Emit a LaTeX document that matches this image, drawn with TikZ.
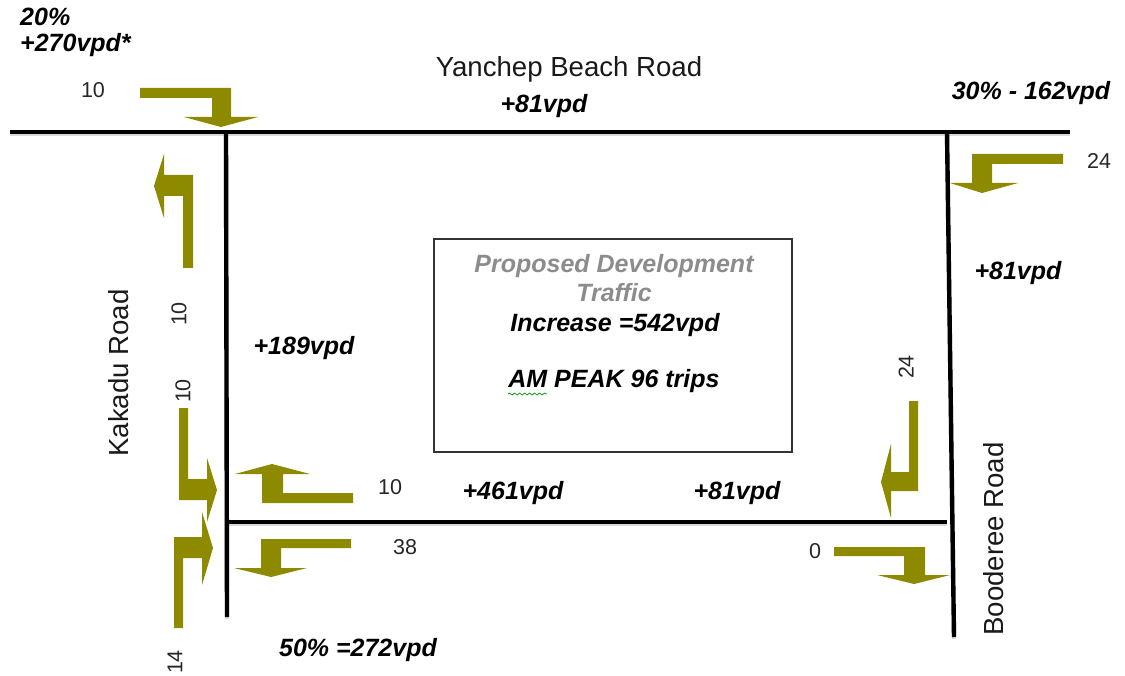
\documentclass[tikz,border=0pt]{standalone}
\usepackage{fontspec}
\setmainfont{Liberation Sans}
\usepackage{tikz}
\usetikzlibrary{decorations.pathmorphing}
\definecolor{arrowolive}{HTML}{8E8A00}
\tikzset{
	roadline/.style={line width=4.4pt,black,preaction={draw=black!15,line width=4.4pt,transform canvas={yshift=-2pt}}},
	turnarrow/.style={fill=arrowolive},
	flowlabel/.style={inner sep=0pt,font=\fontsize{25}{30}\selectfont\bfseries\itshape},
	countlabel/.style={inner sep=0pt,text=black!85,font=\fontsize{21.5}{25}\selectfont},
	roadlabel/.style={inner sep=0pt,text=black!90,font=\fontsize{27.6}{32}\selectfont},
}
\begin{document}
\begin{tikzpicture}[x=1pt,y=-1pt]
	\useasboundingbox (0,0) rectangle (1125,676);
	% junctions and road ends
	\coordinate (westend) at (10,132);
	\coordinate (eastend) at (1070,132);
	\coordinate (nw) at (226,132);
	\coordinate (ne) at (947,132);
	\coordinate (sw) at (226,522);
	\coordinate (se) at (947,522);
	\coordinate (kakaduend) at (227,617);
	\coordinate (boodereeend) at (954,637);
	% roads
	\draw[roadline] (westend) -- (eastend);
	\draw[roadline] (sw) -- (se);
	\draw[roadline] (nw) -- (kakaduend);
	\draw[roadline] (ne) -- (boodereeend);
	% turning arrows
	\fill[turnarrow] (140,88) -- (231,88) -- (231,117) -- (258,117) -- (221,127) -- (184,117) -- (212,117) -- (212,98) -- (140,98) -- cycle;
	\fill[turnarrow] (193,268) -- (193,175) -- (164,175) -- (164,154) -- (154,186) -- (164,218) -- (164,196) -- (183,196) -- (183,268) -- cycle;
	\fill[turnarrow] (179,408) -- (188,408) -- (188,479) -- (207,479) -- (207,458) -- (217,490) -- (207,522) -- (207,500) -- (179,500) -- cycle;
	\fill[turnarrow] (174,628) -- (174,537) -- (202,537) -- (202,512) -- (213,548) -- (202,585) -- (202,558) -- (183,558) -- (183,628) -- cycle;
	\fill[turnarrow] (353,493) -- (353,503) -- (262,503) -- (262,474) -- (235,474) -- (272,464) -- (310,474) -- (283,474) -- (283,493) -- cycle;
	\fill[turnarrow] (351,539) -- (261,539) -- (261,568) -- (234,568) -- (271,577) -- (307,568) -- (281,568) -- (281,548) -- (351,548) -- cycle;
	\fill[turnarrow] (1063,154) -- (972,154) -- (972,183) -- (950,183) -- (982,193) -- (1018,183) -- (992,183) -- (992,164) -- (1063,164) -- cycle;
	\fill[turnarrow] (918,401) -- (918,491) -- (891,491) -- (891,518) -- (881,482) -- (891,444) -- (891,472) -- (909,472) -- (909,401) -- cycle;
	\fill[turnarrow] (834,547) -- (925,547) -- (925,575) -- (950,575) -- (914,584) -- (877,575) -- (904,575) -- (904,556) -- (834,556) -- cycle;
	% development box
	\draw[line width=1.2pt,black!80] (434,239) rectangle (792,452);
	\node[flowlabel,text=black!45] (boxtitle) at (614,266) {Proposed Development};
	\node[flowlabel,text=black!45] (boxtraffic) at (614,293) {Traffic};
	\node[flowlabel] (boxincrease) at (615,325) {Increase =542vpd};
	\node[flowlabel] (boxpeak) at (614,381) {AM PEAK 96 trips};
	\draw[green!60!black,line width=0.7pt,decorate,decoration={snake,amplitude=1pt,segment length=5pt}] (508,394) -- (547,394);
	% road names
	\node[roadlabel] (yanchep) at (569,69) {Yanchep Beach Road};
	\node[roadlabel,rotate=90] (kakadu) at (119,373) {Kakadu Road};
	\node[roadlabel,rotate=90] (booderee) at (994,539) {Booderee Road};
	% traffic volumes
	\node[flowlabel,anchor=west] (nwpct) at (20,17) {20\%};
	\node[flowlabel,anchor=west] (nwvpd) at (20,45) {+270vpd*};
	\node[flowlabel] (yanchepvpd) at (544,106) {+81vpd};
	\node[flowlabel] (nepct) at (1031,93) {30\% - 162vpd};
	\node[flowlabel] (boodereevpd) at (1018,273) {+81vpd};
	\node[flowlabel] (kakaduvpd) at (304,348) {+189vpd};
	\node[flowlabel] (southwest) at (513,493) {+461vpd};
	\node[flowlabel] (southeast) at (737,493) {+81vpd};
	\node[flowlabel] (swpct) at (358,650) {50\% =272vpd};
	% turning counts
	\node[countlabel] (cnta) at (93,90) {10};
	\node[countlabel,rotate=90] (cntb) at (179,314) {10};
	\node[countlabel,rotate=90] (cntc) at (183,391) {10};
	\node[countlabel,rotate=90] (cntd) at (175,662) {14};
	\node[countlabel] (cnte) at (390,487) {10};
	\node[countlabel] (cntf) at (405,547) {38};
	\node[countlabel] (cntg) at (1099,161) {24};
	\node[countlabel,rotate=90] (cnth) at (906,367) {24};
	\node[countlabel] (cnti) at (815,551) {0};
\end{tikzpicture}
\end{document}
